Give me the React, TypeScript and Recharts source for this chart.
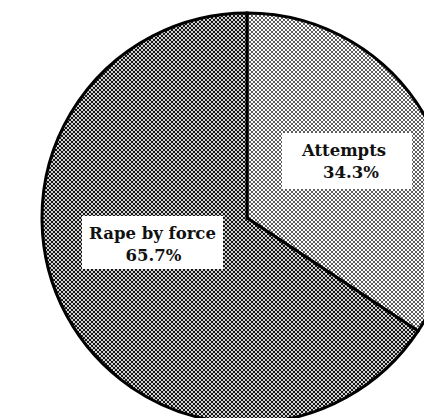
import React from 'react';
import { PieChart, Pie, Cell } from 'recharts';

// offense shares (percent)
const categories = ['Attempts', 'Rape by force'];
const shares = [34.3, 65.7];

const data = categories.map((name, i) => ({ name, value: shares[i] }));

const fills = ['url(#dotsLight)', 'url(#dotsDark)'];

// white label box placement relative to pie centre
const labelBoxes = [
  { x: 35, y: -85, w: 130, h: 56, dx1: -3, dx2: 4 },
  { x: -165, y: -2, w: 141, h: 53, dx1: 0, dx2: 1 },
];

const fontFamily = '"DejaVu Serif", "Liberation Serif", serif';

const renderLabel = (props: any) => {
  const { cx, cy, index, name, value } = props;
  const b = labelBoxes[index];
  const mid = cx + b.x + b.w / 2;
  return (
    <g>
      <rect x={cx + b.x} y={cy + b.y} width={b.w} height={b.h} fill="#fff" />
      <text x={mid + b.dx1} y={cy + b.y + 23} textAnchor="middle" fontFamily={fontFamily} fontWeight="bold" fontSize={16.5} fill="#111">
        {name}
      </text>
      <text x={mid + b.dx2} y={cy + b.y + 45} textAnchor="middle" fontFamily={fontFamily} fontWeight="bold" fontSize={16.5} fill="#111">
        {value}%
      </text>
    </g>
  );
};

const App: React.FC = () => {
  return (
    <div style={{ position: 'absolute', left: 0, top: 0, width: 424, height: 418, background: '#fff', overflow: 'hidden' }}>
      <svg width={0} height={0} style={{ position: 'absolute' }}>
        <defs>
          <pattern id="dotsLight" patternUnits="userSpaceOnUse" width={4} height={4}>
            <rect width={4} height={4} fill="#fff" />
            <circle cx={0} cy={0} r={0.9} fill="#111" />
            <circle cx={4} cy={0} r={0.9} fill="#111" />
            <circle cx={0} cy={4} r={0.9} fill="#111" />
            <circle cx={4} cy={4} r={0.9} fill="#111" />
            <circle cx={2} cy={2} r={0.9} fill="#111" />
          </pattern>
          <pattern id="dotsDark" patternUnits="userSpaceOnUse" width={4} height={4}>
            <rect width={4} height={4} fill="#111" />
            <circle cx={0} cy={0} r={1.1} fill="#fff" />
            <circle cx={4} cy={0} r={1.1} fill="#fff" />
            <circle cx={0} cy={4} r={1.1} fill="#fff" />
            <circle cx={4} cy={4} r={1.1} fill="#fff" />
            <circle cx={2} cy={2} r={1.1} fill="#fff" />
          </pattern>
        </defs>
      </svg>
      <PieChart width={424} height={418} margin={{ top: 0, right: 0, bottom: 0, left: 0 }}>
        <Pie
          data={data}
          dataKey="value"
          nameKey="name"
          cx={247}
          cy={218}
          outerRadius={205}
          startAngle={90}
          endAngle={-270}
          stroke="#000"
          strokeWidth={3}
          label={renderLabel}
          labelLine={false}
          isAnimationActive={false}
        >
          {data.map((d, i) => (
            <Cell key={d.name} fill={fills[i]} />
          ))}
        </Pie>
      </PieChart>
    </div>
  );
};

export default App;
